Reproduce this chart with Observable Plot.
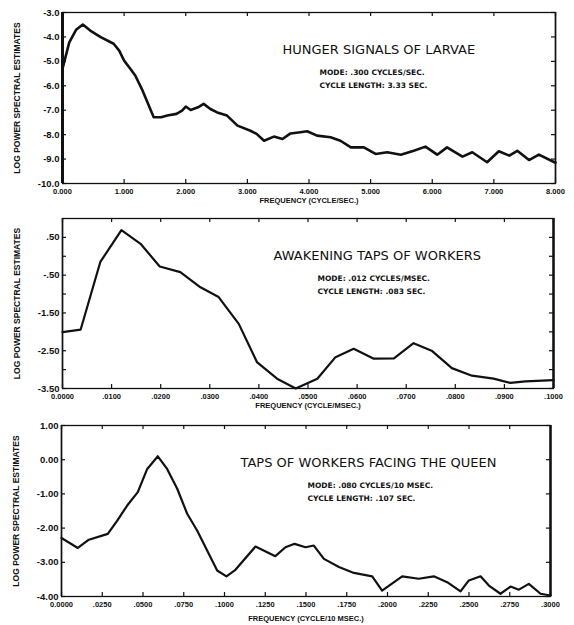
<!DOCTYPE html>
<html><head><meta charset="utf-8">
<script src="https://cdn.jsdelivr.net/npm/d3@7"></script>
<script src="https://cdn.jsdelivr.net/npm/@observablehq/plot@0.6"></script>
<style>
body{margin:0;background:#fff;}
#chart{width:574px;}
#chart svg{display:block;background:#fff;}
</style></head><body><div id="chart"></div>
<script>
// ---- Panel 1: Hunger signals of larvae ----
const larvaeFreq = [0, 0.11, 0.22, 0.33, 0.45, 0.62, 0.83, 0.92, 1.0, 1.1, 1.18, 1.3, 1.48, 1.6, 1.7, 1.85, 1.94, 2.0, 2.08, 2.2, 2.29, 2.4, 2.51, 2.67, 2.84, 3.05, 3.15, 3.27, 3.43, 3.57, 3.70, 3.86, 3.97, 4.13, 4.35, 4.51, 4.68, 4.89, 5.08, 5.27, 5.49, 5.70, 5.89, 6.08, 6.24, 6.49, 6.65, 6.89, 7.08, 7.25, 7.38, 7.57, 7.73, 7.95, 8.0];
const larvaeLogPower = [-5.3, -4.22, -3.71, -3.49, -3.74, -4.01, -4.28, -4.56, -4.97, -5.3, -5.58, -6.2, -7.29, -7.29, -7.22, -7.15, -7.02, -6.85, -6.99, -6.88, -6.74, -6.95, -7.09, -7.22, -7.63, -7.84, -7.97, -8.25, -8.08, -8.18, -7.95, -7.9, -7.86, -8.04, -8.11, -8.25, -8.52, -8.52, -8.79, -8.72, -8.82, -8.66, -8.49, -8.82, -8.52, -8.90, -8.72, -9.13, -8.68, -8.86, -8.66, -9.04, -8.82, -9.09, -9.15];
const larvaeXTicks = [0, 1, 2, 3, 4, 5, 6, 7, 8];
const larvaeXTickLabels = ["0.000", "1.000", "2.000", "3.000", "4.000", "5.000", "6.000", "7.000", "8.000"];
const larvaeYTicks = [-3, -4, -5, -6, -7, -8, -9, -10];
const larvaeYTickLabels = ["-3.0", "-4.0", "-5.0", "-6.0", "-7.0", "-8.0", "-9.0", "-10.0"];

// ---- Panel 2: Awakening taps of workers ----
const awakeFreq = [0, 0.0037, 0.0077, 0.0120, 0.0159, 0.0198, 0.0240, 0.0281, 0.0318, 0.0359, 0.0396, 0.0437, 0.0475, 0.0519, 0.0556, 0.0593, 0.0634, 0.0675, 0.0715, 0.0753, 0.0793, 0.0834, 0.0878, 0.0912, 0.0943, 0.1000];
const awakeLogPower = [-2.01, -1.94, -0.15, 0.69, 0.33, -0.27, -0.42, -0.82, -1.08, -1.79, -2.80, -3.24, -3.50, -3.24, -2.67, -2.45, -2.71, -2.70, -2.30, -2.51, -2.96, -3.16, -3.24, -3.35, -3.31, -3.28];
const awakeXTicks = [0, 0.01, 0.02, 0.03, 0.04, 0.05, 0.06, 0.07, 0.08, 0.09, 0.1];
const awakeXTickLabels = ["0.0000", ".0100", ".0200", ".0300", ".0400", ".0500", ".0600", ".0700", ".0800", ".0900", ".1000"];
const awakeYTicks = [0.5, -0.5, -1.5, -2.5, -3.5];
const awakeYTickLabels = [".50", "-.50", "-1.50", "-2.50", "-3.50"];
const awakeYMinorTicks = [0, -1, -2, -3];

// ---- Panel 3: Taps of workers facing the queen ----
const queenFreq = [0, 0.0100, 0.0168, 0.0284, 0.0342, 0.0403, 0.0468, 0.0526, 0.0591, 0.0648, 0.0710, 0.0771, 0.0832, 0.0955, 0.1012, 0.1067, 0.1190, 0.1312, 0.1374, 0.1430, 0.1497, 0.1548, 0.1610, 0.1702, 0.1794, 0.1906, 0.1967, 0.2090, 0.2192, 0.2284, 0.2366, 0.2448, 0.2499, 0.2571, 0.2622, 0.2693, 0.2755, 0.2806, 0.2867, 0.2939, 0.3000];
const queenLogPower = [-2.29, -2.58, -2.34, -2.17, -1.78, -1.34, -0.95, -0.27, 0.10, -0.27, -0.85, -1.58, -2.07, -3.24, -3.41, -3.22, -2.54, -2.82, -2.56, -2.46, -2.56, -2.51, -2.90, -3.14, -3.31, -3.41, -3.83, -3.41, -3.48, -3.41, -3.58, -3.85, -3.53, -3.41, -3.68, -3.92, -3.71, -3.80, -3.63, -3.92, -3.97];
const queenXTicks = [0, 0.025, 0.05, 0.075, 0.1, 0.125, 0.15, 0.175, 0.2, 0.225, 0.25, 0.275, 0.3];
const queenXTickLabels = ["0.0000", ".0250", ".0500", ".0750", ".1000", ".1250", ".1500", ".1750", ".2000", ".2250", ".2500", ".2750", ".3000"];
const queenYTicks = [1, 0, -1, -2, -3, -4];
const queenYTickLabels = ["1.00", "0.00", "-1.00", "-2.00", "-3.00", "-4.00"];

const yAxisTitle = "LOG POWER SPECTRAL ESTIMATES";

const W = 574;
const tickFont = "'Liberation Sans', Arial, sans-serif";
const titleFont = "'DejaVu Sans', sans-serif";

function panel(o) {
  const data = o.freq.map((f, i) => ({f, v: o.power[i]}));
  const xMap = new Map(o.xTicks.map((t, i) => [t, o.xLabels[i]]));
  const yMap = new Map(o.yTicks.map((t, i) => [t, o.yLabels[i]]));
  const fh = o.height - o.mt - o.mb;
  const fw = W - o.ml - o.mr;
  const allY = o.yTicks.concat(o.yMinor || []);
  const marks = [
    Plot.frame({stroke: "#111", strokeWidth: 1.3}),
    Plot.ruleX([o.xDomain[0]], {stroke: "#111", strokeWidth: o.leftW}),
    Plot.ruleX([o.xDomain[1]], {stroke: "#111", strokeWidth: o.rightW}),
    Plot.tickX(o.xTicks, {x: d => d, insetTop: fh - 4, stroke: "#111", strokeWidth: 1.2}),
    Plot.tickX(o.xTicks, {x: d => d, insetBottom: fh - 4, stroke: "#111", strokeWidth: 1.2}),
    Plot.tickY(allY, {y: d => d, insetRight: fw - 4, stroke: "#111", strokeWidth: 1.2}),
    Plot.tickY(allY, {y: d => d, insetLeft: fw - 4, stroke: "#111", strokeWidth: 1.2}),
    Plot.axisX({ticks: o.xTicks, tickFormat: d => xMap.get(d), tickSize: 0, tickPadding: 5, label: null,
      fontSize: 7.5, fontWeight: "bold", fontFamily: tickFont, fill: "#111"}),
    Plot.axisY({ticks: o.yTicks, tickFormat: d => yMap.get(d), tickSize: 0, tickPadding: 3, label: null,
      fontSize: 9.5, fontWeight: "bold", fontFamily: tickFont, fill: "#111"}),
    Plot.line(data, {x: "f", y: "v", stroke: "#111", strokeWidth: o.lineW, strokeLinejoin: "round", strokeLinecap: "round"}),
    Plot.text([o.title], {text: d => d, frameAnchor: "top-left", dx: o.titleDx, dy: 32, textAnchor: "start",
      fontSize: 13, fontFamily: titleFont, fill: "#111"}),
    Plot.text([o.mode], {text: d => d, frameAnchor: "top-left", dx: o.modeDx, dy: 57, textAnchor: "start",
      fontSize: 7.5, fontWeight: "bold", fontFamily: titleFont, fill: "#111"}),
    Plot.text([o.cycle], {text: d => d, frameAnchor: "top-left", dx: o.modeDx, dy: 70, textAnchor: "start",
      fontSize: 7.5, fontWeight: "bold", fontFamily: titleFont, fill: "#111"}),
    Plot.text([yAxisTitle], {text: d => d, frameAnchor: "left", dx: -45, rotate: -90, textAnchor: "middle",
      fontSize: 8.5, fontWeight: "bold", fontFamily: tickFont, fill: "#111"}),
    Plot.text([o.xTitle], {text: d => d, frameAnchor: "bottom", dy: o.xTitleDy, textAnchor: "middle",
      fontSize: 7.5, fontWeight: "bold", fontFamily: tickFont, fill: "#111"})
  ];
  return Plot.plot({
    width: W, height: o.height,
    marginTop: o.mt, marginBottom: o.mb, marginLeft: o.ml, marginRight: o.mr,
    x: {domain: o.xDomain, label: null},
    y: {domain: o.yDomain, label: null},
    style: {background: "#fff", overflow: "visible"},
    marks
  });
}

const chart = document.getElementById("chart");
chart.append(panel({
  freq: larvaeFreq, power: larvaeLogPower,
  xDomain: [0, 8], yDomain: [-10, -3],
  xTicks: larvaeXTicks, xLabels: larvaeXTickLabels,
  yTicks: larvaeYTicks, yLabels: larvaeYTickLabels,
  height: 205, mt: 12, mb: 22, ml: 62, mr: 19,
  leftW: 3, rightW: 1.5, lineW: 2.6,
  title: "HUNGER SIGNALS OF LARVAE", titleDx: 220,
  mode: "MODE: .300 CYCLES/SEC.", cycle: "CYCLE LENGTH: 3.33 SEC.", modeDx: 257,
  xTitle: "FREQUENCY (CYCLE/SEC.)", xTitleDy: 19
}));
chart.append(panel({
  freq: awakeFreq, power: awakeLogPower,
  xDomain: [0, 0.1], yDomain: [-3.5, 1.0],
  xTicks: awakeXTicks, xLabels: awakeXTickLabels,
  yTicks: awakeYTicks, yLabels: awakeYTickLabels, yMinor: awakeYMinorTicks,
  height: 205, mt: 13, mb: 22, ml: 62, mr: 21,
  leftW: 1.5, rightW: 2.5, lineW: 2.2,
  title: "AWAKENING TAPS OF WORKERS", titleDx: 211,
  mode: "MODE: .012 CYCLES/MSEC.", cycle: "CYCLE LENGTH: .083 SEC.", modeDx: 255,
  xTitle: "FREQUENCY (CYCLE/MSEC.)", xTitleDy: 19
}));
chart.append(panel({
  freq: queenFreq, power: queenLogPower,
  xDomain: [0, 0.3], yDomain: [-4, 1],
  xTicks: queenXTicks, xLabels: queenXTickLabels,
  yTicks: queenYTicks, yLabels: queenYTickLabels,
  height: 215, mt: 15, mb: 29, ml: 61, mr: 24,
  leftW: 1.5, rightW: 2.5, lineW: 2.2,
  title: "TAPS OF WORKERS FACING THE QUEEN", titleDx: 179,
  mode: "MODE: .080 CYCLES/10 MSEC.", cycle: "CYCLE LENGTH: .107 SEC.", modeDx: 246,
  xTitle: "FREQUENCY (CYCLE/10 MSEC.)", xTitleDy: 24
}));
</script>
</body></html>
